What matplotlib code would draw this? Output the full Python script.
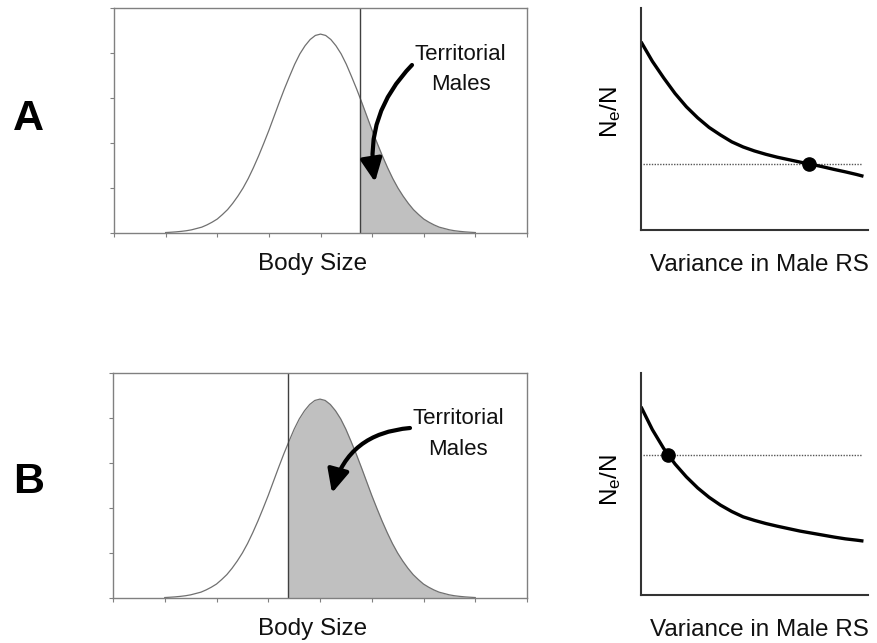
import matplotlib.pyplot as plt
from matplotlib.patches import Rectangle, FancyArrowPatch

plt.rcParams['font.family'] = ['Liberation Sans', 'DejaVu Sans']
plt.rcParams['mathtext.fontset'] = 'custom'
plt.rcParams['mathtext.rm'] = 'Liberation Sans'
plt.rcParams['mathtext.it'] = 'Liberation Sans'

# body size distribution
body_x = [round(1 + 0.1 * i, 1) for i in range(61)]
body_y = [0.01, 0.017, 0.025, 0.036, 0.05, 0.07, 0.10, 0.13, 0.18, 0.24,
          0.31, 0.41, 0.52, 0.66, 0.82, 1.00, 1.21, 1.45, 1.71, 1.99,
          2.28, 2.59, 2.90, 3.20, 3.48, 3.75, 3.98, 4.16, 4.30, 4.39,
          4.42,
          4.39, 4.30, 4.16, 3.98, 3.75, 3.48, 3.20, 2.90, 2.59, 2.28,
          1.99, 1.71, 1.45, 1.21, 1.00, 0.82, 0.66, 0.52, 0.41, 0.31,
          0.24, 0.18, 0.13, 0.10, 0.07, 0.05, 0.036, 0.025, 0.017, 0.01]
cutoff_a = 4.76
cutoff_b = 3.38

# Ne/N against variance in male RS
var_x = [0.0, 0.05, 0.10, 0.15, 0.20, 0.25, 0.30, 0.35, 0.40, 0.45, 0.50,
         0.55, 0.60, 0.65, 0.70, 0.75, 0.80, 0.85, 0.90, 0.95, 0.98]
ne_a = [0.848, 0.760, 0.685, 0.615, 0.555, 0.505, 0.462, 0.428, 0.397, 0.374, 0.356,
        0.341, 0.328, 0.317, 0.306, 0.296, 0.285, 0.273, 0.262, 0.250, 0.242]
ne_b = [0.848, 0.745, 0.660, 0.590, 0.532, 0.482, 0.440, 0.405, 0.376, 0.352, 0.336,
        0.322, 0.310, 0.299, 0.288, 0.279, 0.270, 0.261, 0.253, 0.247, 0.243]
dot_a = (0.74, 0.296)
dot_b = (0.12, 0.630)

W, H = 877, 643
fig = plt.figure(figsize=(W / 100, H / 100), dpi=100)


def box(l, t, r, b):
    return [l / W, 1 - b / H, (r - l) / W, (b - t) / H]


def fp(x, y):
    return x / W, 1 - y / H


def body_panel(rect, cutoff):
    ax = fig.add_axes(rect)
    # shade only the part right of the cutoff
    fill = ax.fill_between(body_x, body_y, color='#c0c0c0', lw=0)
    fill.set_clip_path(Rectangle((cutoff, 0), 10, 10, transform=ax.transData))
    ax.plot(body_x, body_y, color='#707070', lw=0.9)
    ax.axvline(cutoff, color='#404040', lw=1)
    ax.set_xlim(0, 8)
    ax.set_ylim(0, 5)
    ax.set_xticks(range(9))
    ax.set_yticks(range(6))
    ax.tick_params(direction='out', length=3, color='#808080', labelbottom=False, labelleft=False)
    for s in ax.spines.values():
        s.set_color('#808080')
        s.set_linewidth(1)
    return ax


def ne_panel(rect, ne, dot):
    ax = fig.add_axes(rect)
    ax.plot([0.01, 0.975], [dot[1], dot[1]], color='#555555', lw=1, ls=(0, (1, 1)))
    ax.plot(var_x, ne, color='black', lw=2.4, solid_capstyle='butt')
    ax.plot(*dot, 'o', color='black', ms=9.5)
    ax.set_xlim(0, 1)
    ax.set_ylim(0, 1)
    ax.set_xticks([])
    ax.set_yticks([])
    for s in ['top', 'right']:
        ax.spines[s].set_visible(False)
    for s in ['left', 'bottom']:
        ax.spines[s].set_color('#333333')
        ax.spines[s].set_linewidth(1.5)
    return ax


body_panel(box(114, 8, 527, 233), cutoff_a)
body_panel(box(113, 373, 527, 598), cutoff_b)
ne_panel(box(641, 8, 868, 230), ne_a, dot_a)
ne_panel(box(641, 373, 868, 595), ne_b, dot_b)

# axis labels
lab = dict(fontsize=17.5, ha='center', va='baseline', color='#111111')
fig.text(*fp(313, 270), 'Body Size', **lab)
fig.text(*fp(313, 635), 'Body Size', **lab)
fig.text(*fp(759, 271), 'Variance in Male RS', **lab)
fig.text(*fp(759, 636), 'Variance in Male RS', **lab)
fig.text(*fp(611, 112), r'N$_\mathrm{e}$/N', fontsize=17.5, rotation=90, ha='center', va='center')
fig.text(*fp(611, 480), r'N$_\mathrm{e}$/N', fontsize=17.5, rotation=90, ha='center', va='center')

fig.text(*fp(28, 119), 'A', fontsize=31, fontweight='bold', ha='center', va='center')
fig.text(*fp(29, 482), 'B', fontsize=31, fontweight='bold', ha='center', va='center')

ann = dict(fontsize=16, ha='center', va='baseline', color='#111111')
fig.text(*fp(460, 60), 'Territorial', **ann)
fig.text(*fp(461, 90), 'Males', **ann)
fig.text(*fp(458, 424), 'Territorial', **ann)
fig.text(*fp(458, 455), 'Males', **ann)

arrow = dict(arrowstyle='-|>,head_length=0.7,head_width=0.33', color='black', lw=3,
             mutation_scale=20, shrinkA=0, shrinkB=0, transform=fig.transFigure)
fig.add_artist(FancyArrowPatch(fp(412, 65), fp(375, 182),
                               connectionstyle='arc3,rad=0.25', **arrow))
fig.add_artist(FancyArrowPatch(fp(410, 428), fp(332, 493),
                               connectionstyle='arc3,rad=0.35', **arrow))

fig.savefig('out.png', dpi=100)
